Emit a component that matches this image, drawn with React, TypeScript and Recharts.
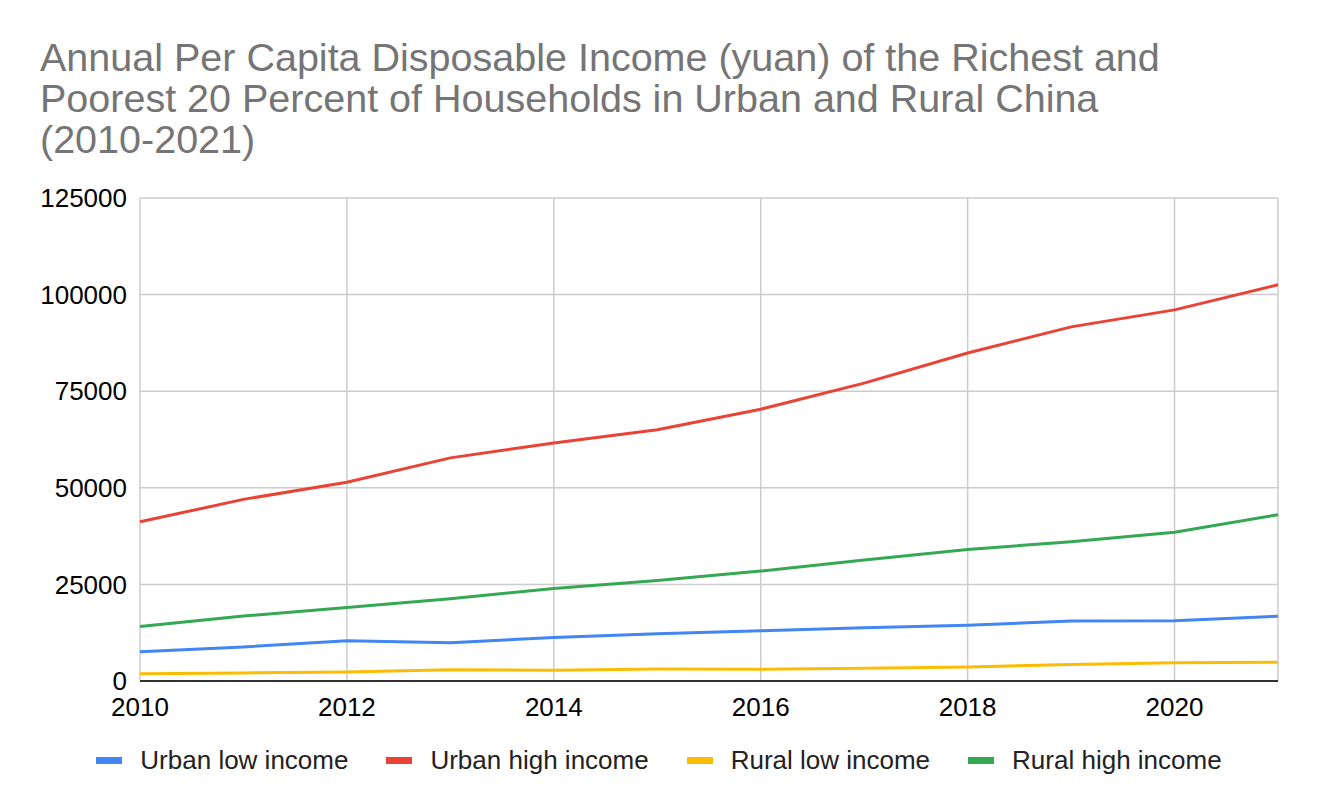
import { LineChart, Line, XAxis, YAxis, CartesianGrid } from "recharts";

// values (yuan)
const years = [2010, 2011, 2012, 2013, 2014, 2015, 2016, 2017, 2018, 2019, 2020, 2021];
const urbanLow = [7600, 8800, 10400, 9900, 11250, 12250, 13000, 13750, 14400, 15550, 15600, 16750];
const urbanHigh = [41200, 47000, 51450, 57750, 61600, 65050, 70350, 77100, 84900, 91650, 96050, 102550];
const ruralLow = [1900, 2100, 2350, 2900, 2800, 3100, 3050, 3300, 3650, 4250, 4700, 4850];
const ruralHigh = [14100, 16800, 19000, 21300, 23950, 26000, 28450, 31300, 34050, 36050, 38500, 43050];

const xTicks = [2010, 2012, 2014, 2016, 2018, 2020];
const yTicks = [0, 25000, 50000, 75000, 100000, 125000];

const series = [
  { key: "urbanLow", name: "Urban low income", color: "#4285F4", values: urbanLow },
  { key: "urbanHigh", name: "Urban high income", color: "#EA4335", values: urbanHigh },
  { key: "ruralLow", name: "Rural low income", color: "#FBBC04", values: ruralLow },
  { key: "ruralHigh", name: "Rural high income", color: "#34A853", values: ruralHigh },
];

const data = years.map((year, i) => {
  const row: Record<string, number> = { year };
  series.forEach((s) => (row[s.key] = s.values[i]));
  return row;
});

const font = '"Liberation Sans", Arial, sans-serif';

export default function App() {
  return (
    <div style={{ position: "absolute", left: 0, top: 0, width: 1318, height: 810, background: "#fff", fontFamily: font }}>
      <div
        style={{
          position: "absolute",
          left: 40,
          top: 37,
          fontSize: 39.5,
          lineHeight: "41px",
          color: "#757575",
          width: 1250,
        }}
      >
        Annual Per Capita Disposable Income (yuan) of the Richest and
        <br />
        Poorest 20 Percent of Households in Urban and Rural China
        <br />
        (2010-2021)
      </div>
      <LineChart
        width={1318}
        height={810}
        data={data}
        margin={{ top: 198, right: 40, bottom: 89, left: 40 }}
      >
        <CartesianGrid stroke="#cccccc" strokeWidth={1.5} />
        <XAxis
          dataKey="year"
          type="number"
          domain={[2010, 2021]}
          ticks={xTicks}
          height={40}
          tickLine={false}
          tickSize={0}
          tickMargin={17}
          axisLine={{ stroke: "#333333", strokeWidth: 2 }}
          tick={{ fill: "#000", fontSize: 26, fontFamily: font }}
        />
        <YAxis
          type="number"
          domain={[0, 125000]}
          ticks={yTicks}
          width={100}
          axisLine={false}
          tickLine={false}
          tickSize={0}
          tickMargin={13}
          tick={{ fill: "#000", fontSize: 26, fontFamily: font }}
        />
        {series.map((s) => (
          <Line
            key={s.key}
            dataKey={s.key}
            name={s.name}
            stroke={s.color}
            strokeWidth={3}
            dot={false}
            activeDot={false}
            type="linear"
            isAnimationActive={false}
          />
        ))}
      </LineChart>
      <div
        style={{
          position: "absolute",
          left: 0,
          top: 740,
          width: 1318,
          height: 40,
          display: "flex",
          justifyContent: "center",
          alignItems: "center",
          gap: 38,
          fontSize: 26,
          color: "#222",
        }}
      >
        {series.map((s) => (
          <div key={s.key} style={{ display: "flex", alignItems: "center" }}>
            <span style={{ display: "inline-block", width: 26, height: 7, background: s.color, marginRight: 18 }} />
            <span>{s.name}</span>
          </div>
        ))}
      </div>
    </div>
  );
}
